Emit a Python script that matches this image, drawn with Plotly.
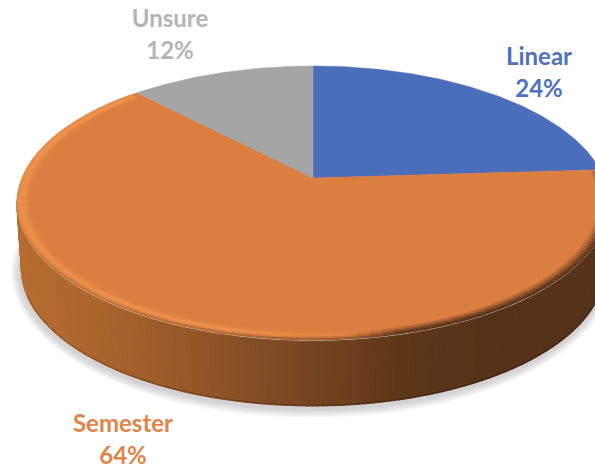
import numpy as np
import plotly.graph_objects as go

labels = ["Linear", "Semester", "Unsure"]
values = [24, 64, 12]
face_colors = ["#4A6EBA", "#DB7F40", "#A5A5A5"]
text_colors = ["#4F71BE", "#E0854A", "#B4B4B4"]
label_xy = [(539, 75), (123, 442), (170, 37)]

W, H = 595, 468
X0, Y0, A, B, P = 313, 178, 291, 132.4, 0.182
DROP, SHRINK = 66, 0.985


def project(theta, r=1.0):
    u, v = r * np.sin(theta), r * np.cos(theta)
    k = 1 / (1 + P * v)
    return X0 + A * u * k, Y0 - B * v * k


def hex2rgb(c):
    return np.array([int(c[i:i + 2], 16) for i in (1, 3, 5)], float)


def mix(a, b, t):
    c = a + (b - a) * t
    return "rgb(%d,%d,%d)" % tuple(np.round(c))


wall_x = [20, 100, 200, 300, 400, 480, 600]
wall_stops = np.array([hex2rgb(c) for c in
                       ["#B66D30", "#AA652D", "#925628", "#784622", "#5E3719", "#55331A", "#55331A"]])


def wall_rgb(x):
    return np.array([np.interp(x, wall_x, wall_stops[:, i]) for i in range(3)])


fig = go.Figure()


def poly(xs, ys, color):
    fig.add_trace(go.Scatter(
        x=xs, y=ys, mode="lines", fill="toself", fillcolor=color,
        line=dict(color=color, width=1.2), hoverinfo="skip", showlegend=False))


fractions = np.cumsum([0] + values) / sum(values)
angles = 2 * np.pi * fractions

# soft shadow under the disc
full = np.linspace(0, 2 * np.pi, 181)
for grow in [9, 7.5, 6, 4.5, 3, 1.5]:
    sx, sy = project(full)
    cy = np.mean([sy.min(), sy.max()])
    sx2 = X0 + (sx - X0) * SHRINK * (1 + grow / A) - 1
    sy2 = cy + (sy - cy) * (1 + grow / 137) + DROP + 3
    fig.add_trace(go.Scatter(x=sx2, y=sy2, mode="lines", fill="toself",
                             fillcolor="rgba(120,120,120,0.06)", line=dict(width=0),
                             hoverinfo="skip", showlegend=False))

# side wall of the disc
front = np.linspace(np.pi * 0.49, np.pi * 1.53, 221)
for a0, a1 in zip(front[:-1], front[1:]):
    x0, y0 = project(np.array([a0, a1]))
    xb = X0 + (x0 - X0) * SHRINK
    col = wall_rgb(x0.mean())
    poly([x0[0], x0[1], xb[1], xb[0], x0[0]],
         [y0[0] + 1.5, y0[1] + 1.5, y0[1] + DROP, y0[0] + DROP, y0[0] + 1.5],
         mix(col, col, 0))

# thin darker lower edge
t = np.linspace(np.pi * 0.6, np.pi * 1.38, 60)
ex, ey = project(t)
for i in range(len(t) - 1):
    col = wall_rgb(ex[i:i + 2].mean())
    fig.add_trace(go.Scatter(
        x=X0 + (ex[i:i + 2] - X0) * SHRINK, y=ey[i:i + 2] + DROP - 0.5, mode="lines",
        line=dict(color=mix(col, col * 0.75, 1), width=1), hoverinfo="skip", showlegend=False))

# top faces
for i, color in enumerate(face_colors):
    t = np.linspace(angles[i], angles[i + 1], 160)
    ax, ay = project(t)
    fig.add_trace(go.Scatter(
        x=np.r_[X0, ax, X0], y=np.r_[Y0, ay, Y0], mode="lines", fill="toself",
        fillcolor=color, line=dict(color=color, width=0.5),
        name=labels[i], hoverinfo="skip", showlegend=False))

# rim bevel on the orange slice
face = hex2rgb(face_colors[1])
light = hex2rgb("#EE924E")
radii = [0.962, 0.969, 0.976, 0.983, 0.990, 0.997]
weights = [0.2, 0.55, 0.9, 1.0, 0.9, 0.7]
darks = [0, 0, 0, 0.05, 0.3, 0.6]
arc = np.linspace(angles[1] + 0.01, angles[2] - 0.03, 110)
for a0, a1 in zip(arc[:-1], arc[1:]):
    mx, my = project(np.array([(a0 + a1) / 2]))
    xm, ym = mx[0], my[0]
    glow = np.clip((400 - xm) / 170, 0, 1)
    # upper left of the rim meets the white background: no dark edge there
    edge = np.clip((ym - 215) / 50, 0, 1)
    wall = wall_rgb(xm)
    for r, w, d in zip(radii, weights, darks):
        bx, by = project(np.array([a0, a1]), r)
        base = face + (light - face) * w * glow
        dd = d * edge if glow > 0.3 else d + (1 - d) * (r - 0.962) / 0.035 * (1 - glow / 0.3)
        fig.add_trace(go.Scatter(
            x=bx, y=by, mode="lines",
            line=dict(color=mix(base, wall, min(dd, 1)), width=2),
            hoverinfo="skip", showlegend=False))

# data labels
for lab, val, col, (lx, ly) in zip(labels, values, text_colors, label_xy):
    fig.add_trace(go.Scatter(
        x=[lx], y=[ly], mode="text", text=[f"<b>{lab}<br>{val}%</b>"],
        textposition="middle center",
        textfont=dict(family="Lato", size=24, color=col),
        hoverinfo="skip", showlegend=False, cliponaxis=False))

fig.update_layout(
    width=W, height=H, autosize=False, margin=dict(l=0, r=0, t=0, b=0),
    paper_bgcolor="white", plot_bgcolor="white", showlegend=False,
    xaxis=dict(range=[0, W], visible=False, fixedrange=True),
    yaxis=dict(range=[H, 0], visible=False, fixedrange=True),
)
fig.write_html("out.html", config=dict(displayModeBar=False),
               post_script="document.body.style.margin='0';document.body.style.overflow='hidden';")
